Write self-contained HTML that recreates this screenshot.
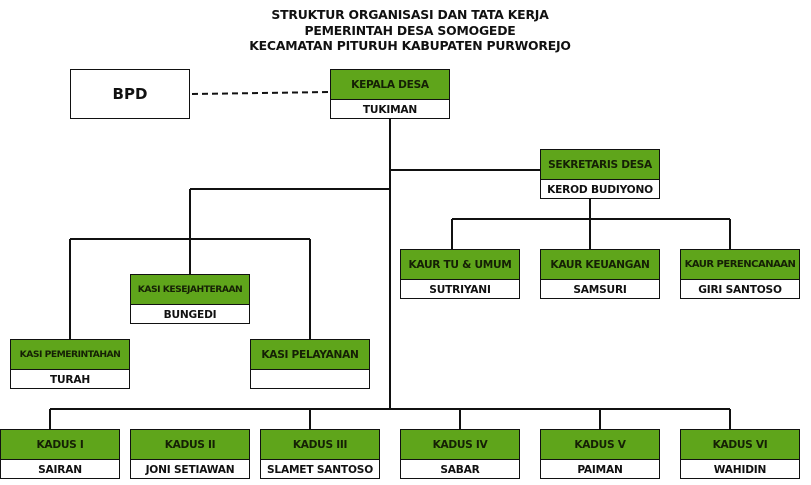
<!DOCTYPE html>
<html><head><meta charset="utf-8"><style>
body{margin:0;width:811px;height:485px;background:#fff;position:relative;overflow:hidden;font-family:"DejaVu Sans","Liberation Sans",sans-serif;}
.t{position:absolute;left:0;width:820px;text-align:center;font-weight:bold;font-size:12.4px;color:#111;letter-spacing:-0.2px}
.b{position:absolute;width:120px;height:50px;box-sizing:border-box;border:1px solid #111;}
.g{height:29px;background:#5fa51b;border-bottom:1px solid #111;display:flex;align-items:center;justify-content:center;font-size:10.6px;font-weight:bold;color:#152005;white-space:nowrap;letter-spacing:-0.3px}
.w{height:19px;display:flex;align-items:center;justify-content:center;font-size:10.6px;font-weight:bold;color:#111;white-space:nowrap;letter-spacing:-0.2px}
svg{position:absolute;left:0;top:0}
</style></head><body>
<div class="t" style="top:7px">STRUKTUR ORGANISASI DAN TATA KERJA</div>
<div class="t" style="top:23px">PEMERINTAH DESA SOMOGEDE</div>
<div class="t" style="top:38px">KECAMATAN PITURUH KABUPATEN PURWOREJO</div>
<svg width="811" height="485">
<g stroke="#111" stroke-width="2" fill="none">
<line x1="192" y1="94" x2="330" y2="92" stroke-dasharray="6,4"/>
<line x1="390" y1="119" x2="390" y2="410"/>
<line x1="390" y1="170" x2="540" y2="170"/>
<line x1="190" y1="189" x2="390" y2="189"/>
<line x1="190" y1="189" x2="190" y2="275"/>
<line x1="70" y1="239" x2="310" y2="239"/>
<line x1="70" y1="239" x2="70" y2="339"/>
<line x1="310" y1="239" x2="310" y2="339"/>
<line x1="590" y1="199" x2="590" y2="249"/>
<line x1="452" y1="219" x2="730" y2="219"/>
<line x1="452" y1="219" x2="452" y2="249"/>
<line x1="730" y1="219" x2="730" y2="249"/>
<line x1="50" y1="409" x2="730" y2="409"/>
<line x1="50" y1="409" x2="50" y2="429"/>
<line x1="310" y1="409" x2="310" y2="429"/>
<line x1="460" y1="409" x2="460" y2="429"/>
<line x1="600" y1="409" x2="600" y2="429"/>
<line x1="730" y1="409" x2="730" y2="429"/>
</g></svg>
<div class="b" style="left:70px;top:69px;display:flex;align-items:center;justify-content:center;font-weight:bold;font-size:15px;color:#111">BPD</div>
<div class="b" style="left:330px;top:69px"><div class="g">KEPALA DESA</div><div class="w">TUKIMAN</div></div>
<div class="b" style="left:540px;top:149px"><div class="g">SEKRETARIS DESA</div><div class="w">KEROD BUDIYONO</div></div>
<div class="b" style="left:400px;top:249px"><div class="g">KAUR TU &amp; UMUM</div><div class="w">SUTRIYANI</div></div>
<div class="b" style="left:540px;top:249px"><div class="g">KAUR KEUANGAN</div><div class="w">SAMSURI</div></div>
<div class="b" style="left:680px;top:249px"><div class="g" style="font-size:10px;letter-spacing:-0.5px">KAUR PERENCANAAN</div><div class="w">GIRI SANTOSO</div></div>
<div class="b" style="left:130px;top:274px"><div class="g" style="font-size:9.2px;letter-spacing:-0.5px">KASI KESEJAHTERAAN</div><div class="w">BUNGEDI</div></div>
<div class="b" style="left:10px;top:339px"><div class="g" style="font-size:9.2px;letter-spacing:-0.5px">KASI PEMERINTAHAN</div><div class="w">TURAH</div></div>
<div class="b" style="left:250px;top:339px"><div class="g">KASI PELAYANAN</div><div class="w"></div></div>
<div class="b" style="left:0px;top:429px"><div class="g">KADUS I</div><div class="w">SAIRAN</div></div>
<div class="b" style="left:130px;top:429px"><div class="g">KADUS II</div><div class="w">JONI SETIAWAN</div></div>
<div class="b" style="left:260px;top:429px"><div class="g">KADUS III</div><div class="w">SLAMET SANTOSO</div></div>
<div class="b" style="left:400px;top:429px"><div class="g">KADUS IV</div><div class="w">SABAR</div></div>
<div class="b" style="left:540px;top:429px"><div class="g">KADUS V</div><div class="w">PAIMAN</div></div>
<div class="b" style="left:680px;top:429px"><div class="g">KADUS VI</div><div class="w">WAHIDIN</div></div>
</body></html>
